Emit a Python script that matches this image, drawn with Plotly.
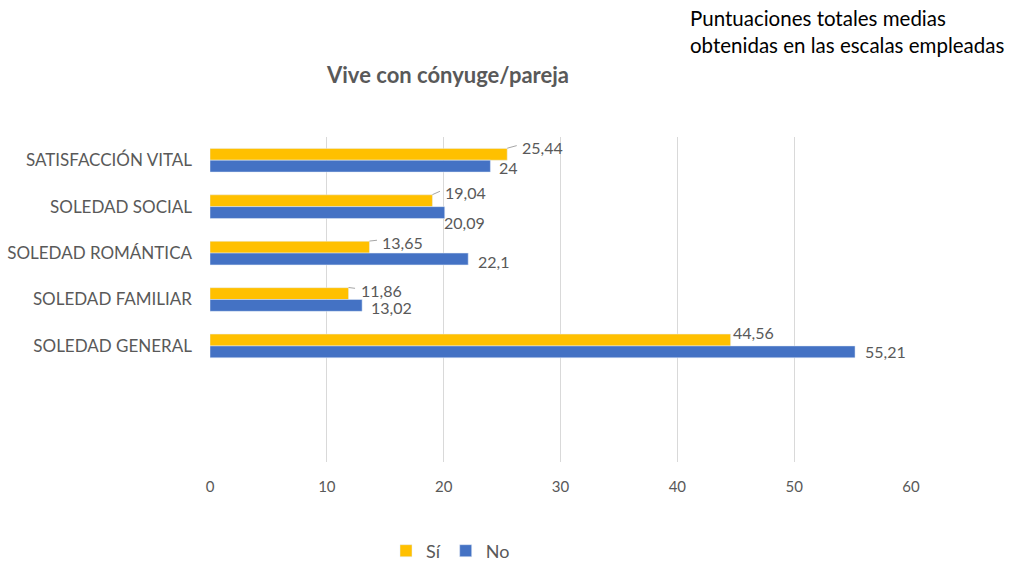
import plotly.graph_objects as go

categories = ["SATISFACCIÓN VITAL", "SOLEDAD SOCIAL", "SOLEDAD ROMÁNTICA",
              "SOLEDAD FAMILIAR", "SOLEDAD GENERAL"]
si_values = [25.44, 19.04, 13.65, 11.86, 44.56]
no_values = [24, 20.09, 22.1, 13.02, 55.21]
si_labels = ["25,44", "19,04", "13,65", "11,86", "44,56"]
no_labels = ["24", "20,09", "22,1", "13,02", "55,21"]
x_ticks = [0, 10, 20, 30, 40, 50, 60]
empty_slots = [" ", "  "]

SI_COLOR = "#FFC000"
NO_COLOR = "#4472C4"
TXT = "#595959"
FONT = "Lato"

W, H = 1015, 562
L, R, T, B = 210, 104, 137, 100
pw, ph = W - L - R, H - T - B


def px_x(x):
    return (x - L) / pw


def px_y(y):
    return (H - B - y) / ph


fig = go.Figure()
fig.add_trace(go.Bar(y=categories, x=si_values, orientation="h", name="Sí",
                     marker_color=SI_COLOR))
fig.add_trace(go.Bar(y=categories, x=no_values, orientation="h", name="No",
                     marker_color=NO_COLOR))

annotations = []
# label placement offsets in pixels (xshift, yshift)
si_offsets = [(13, 13), (11, 14), (11, 11), (10, 9), (0, 13)]
si_leader = [True, True, True, True, False]
no_offsets = [(7, -7), (-3, -16), (8, -8), (7, -8), (8, -6)]
for cat, v, lab, (dx, dy), lead in zip(categories, si_values, si_labels, si_offsets, si_leader):
    annotations.append(dict(x=v, y=cat, xref="x", yref="y", text=lab, showarrow=False,
                            xanchor="left", yanchor="middle", xshift=dx, yshift=dy,
                            font=dict(family=FONT, size=16, color=TXT)))
    if lead:
        annotations.append(dict(x=v, y=cat, xref="x", yref="y", text="",
                                showarrow=True, arrowhead=0, arrowwidth=1,
                                arrowcolor="#a6a6a6", ax=dx - 2, ay=-(dy - 12) - 2,
                                yshift=12, standoff=0, startstandoff=0))
for cat, v, lab, (dx, dy) in zip(categories, no_values, no_labels, no_offsets):
    annotations.append(dict(x=v, y=cat, xref="x", yref="y", text=lab, showarrow=False,
                            xanchor="left", yanchor="middle", xshift=dx, yshift=dy,
                            font=dict(family=FONT, size=16, color=TXT)))

annotations.append(dict(x=px_x(447), y=px_y(75), xref="paper", yref="paper",
                        text="<b>Vive con cónyuge/pareja</b>", xanchor="center", yanchor="middle",
                        showarrow=False, font=dict(family=FONT, size=22, color=TXT)))
annotations.append(dict(x=px_x(688), y=px_y(4), xref="paper", yref="paper",
                        text="Puntuaciones totales medias<br>obtenidas en las escalas empleadas",
                        showarrow=False, xanchor="left", yanchor="top", align="left",
                        font=dict(family=FONT, size=20.5, color="#000000")))

fig.update_layout(
    width=W, height=H,
    margin=dict(l=L, r=R, t=T, b=B, pad=0, autoexpand=False),
    paper_bgcolor="white", plot_bgcolor="white",
    barmode="group", bargap=0.49, bargroupgap=0,
    font=dict(family=FONT, color=TXT),
    showlegend=True,
    legend=dict(orientation="h", x=px_x(386), xanchor="left",
                y=px_y(551), yanchor="middle", itemwidth=30,
                font=dict(family=FONT, size=18, color=TXT),
                traceorder="normal"),
    annotations=annotations,
    xaxis=dict(range=[0, 60], tickvals=x_ticks, showgrid=True, gridcolor="#d9d9d9",
               gridwidth=1, zeroline=False, showline=False, ticks="", automargin=False,
               tickfont=dict(family=FONT, size=15, color=TXT), ticklabelstandoff=14),
    yaxis=dict(categoryorder="array", categoryarray=categories + empty_slots,
               range=[len(categories) + len(empty_slots) - 0.5, -0.5],
               showgrid=False, showline=False, zeroline=False, automargin=False,
               ticks="", tickfont=dict(family=FONT, size=17, color=TXT), ticklabelstandoff=17),
)

fig.write_html("out.html", config={"displayModeBar": False},
               post_script="document.body.style.margin='0';document.body.style.overflow='hidden';")
